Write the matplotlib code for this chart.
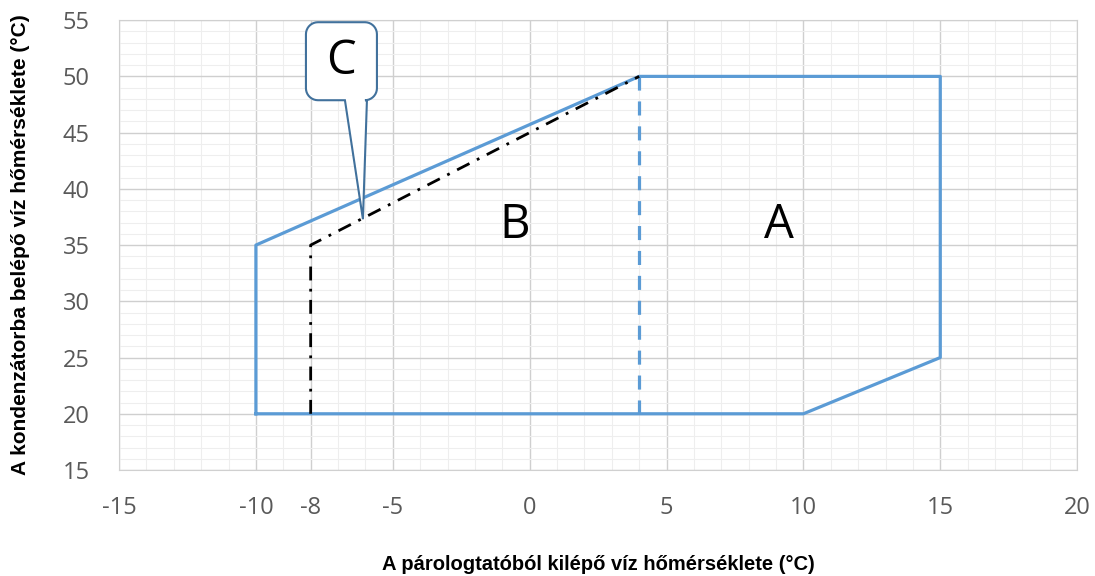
import numpy as np
import matplotlib
matplotlib.use('Agg')
import matplotlib.pyplot as plt
from matplotlib.patches import Polygon
from matplotlib.transforms import IdentityTransform

plt.rcParams['axes.unicode_minus'] = False

# operating envelope (solid blue outline)
env_x = [-10, -10, 4, 15, 15, 10, -10]
env_y = [20, 35, 50, 50, 25, 20, 20]
# border between A and B (dashed)
ab_x = [4, 4]
ab_y = [20, 50]
# zone C limit (dash-dot)
c_x = [-8, -8, 4]
c_y = [20, 35, 50]
# where the C callout points
c_tip = (-6.09, 37.3)

xticks = [-15, -10, -8, -5, 0, 5, 10, 15, 20]
yticks = [15, 20, 25, 30, 35, 40, 45, 50, 55]

blue = '#5B9BD5'
callout_ec = '#41719C'

fig = plt.figure(figsize=(10.95, 5.76), dpi=100)
ax = fig.add_axes([0.1087, 0.184, 0.875, 0.781])

ax.plot(env_x, env_y, color=blue, lw=2.3, zorder=3)
ax.plot(ab_x, ab_y, color=blue, lw=2.3, ls=(0, (4.4, 3.4)), zorder=3)
ax.plot(c_x, c_y, color='black', lw=2.0, ls=(0, (5, 3, 1, 3)), zorder=4)

ax.set_xlim(-15, 20)
ax.set_ylim(15, 55)
ax.set_xticks(xticks)
ax.set_yticks(yticks)
ax.set_xticks(np.arange(-15, 21, 1), minor=True)
ax.set_yticks(np.arange(15, 56, 1), minor=True)
ax.grid(which='major', color='#cfcfcf', lw=1.0, zorder=0)
ax.grid(which='minor', color='#eeeeee', lw=0.8, zorder=0)
ax.tick_params(which='both', length=0)
ax.tick_params(labelsize=17, labelcolor='#595959')
ax.tick_params(axis='x', pad=19)
ax.tick_params(axis='y', pad=21)
for lab in ax.get_xticklabels() + ax.get_yticklabels():
    lab.set_family('Open Sans')
for s in ax.spines.values():
    s.set_color('#d0d0d0')

ax.set_xlabel('A párologtatóból kilépő víz hőmérséklete (°C)', fontsize=14.5,
              fontweight='bold', family='Liberation Sans', va='center')
ax.set_ylabel('A kondenzátorba belépő víz hőmérséklete (°C)', fontsize=15,
              fontweight='bold', family='Liberation Sans', va='center')
ax.xaxis.set_label_coords(0.5, -0.211)
ax.yaxis.set_label_coords(-0.103, 0.5)

ax.text(-0.55, 36.8, 'B', fontsize=34, ha='center', va='center', family='Open Sans', zorder=5)
ax.text(9.1, 36.8, 'A', fontsize=34, ha='center', va='center', family='Open Sans', zorder=5)

# callout C: rounded box with a pointer, built in pixels around the tip
tx, ty = ax.transData.transform(c_tip)
left, right, bot, top, r = -57, 14, 119, 197, 12
def arc(cx, cy, a0, a1):
    t = np.radians(np.linspace(a0, a1, 10))
    return [(cx + r * np.cos(a), cy + r * np.sin(a)) for a in t]
pts = [(-18, bot)]
pts += arc(left + r, bot + r, 270, 180)
pts += arc(left + r, top - r, 180, 90)
pts += arc(right - r, top - r, 90, 0)
pts += arc(right - r, bot + r, 0, -90)
pts += [(4, bot), (0, 0)]
pts = [(tx + dx, ty + dy) for dx, dy in pts]
ax.add_patch(Polygon(pts, closed=True, fc='white', ec=callout_ec, lw=1.5,
                     transform=IdentityTransform(), zorder=6))
ax.text(tx - 22, ty + 158, 'C', fontsize=34, ha='center', va='center',
        family='Open Sans', transform=IdentityTransform(), zorder=8)

fig.savefig('out.png', dpi=100)
